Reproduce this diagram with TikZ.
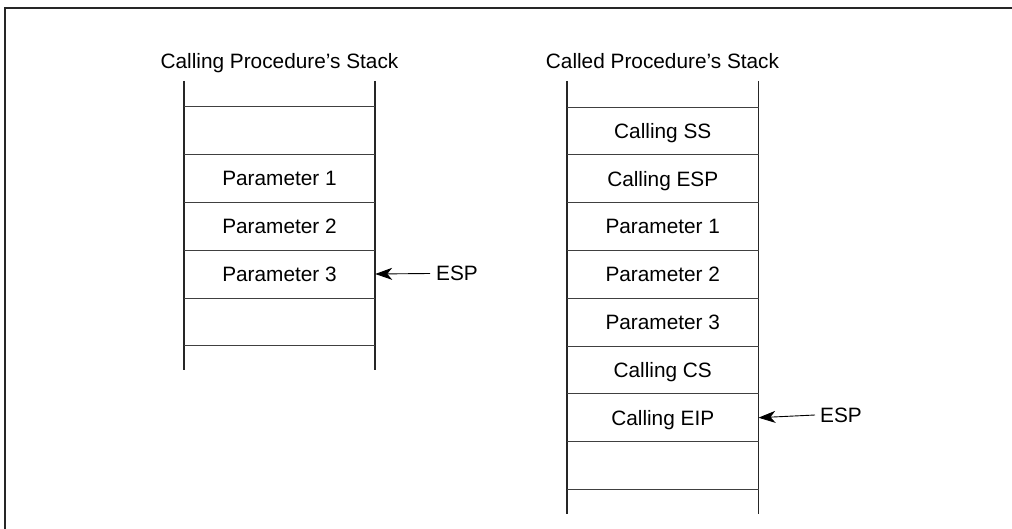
\documentclass[tikz,border=0pt]{standalone}
\usepackage{fontspec}
\setmainfont{Liberation Sans}
\usetikzlibrary{arrows.meta}
\begin{document}
\begin{tikzpicture}[x=1pt,y=-1pt,
  frame/.style={line width=1.6pt, black!85},
  rail/.style={line width=1.3pt, black!85},
  sep/.style={line width=0.9pt, black!75},
  lbl/.style={font=\fontsize{20.8}{24}\selectfont, inner sep=0pt, text height=14.9pt, text depth=0pt},
  cell/.style={lbl, minimum width=191pt},
  ptr/.style={line width=0.9pt, -{Stealth[length=17pt,width=12pt,inset=5pt]}}]
\useasboundingbox (0,0) rectangle (1012,529);
\draw[frame] (5,529) -- (5,8) -- (1012,8);

% ---- Calling procedure's stack ----
\node[lbl] (titleL) at (279.5,61) {Calling Procedure’s Stack};
\draw[rail] (184,81) -- (184,370);
\draw[rail] (375,81) -- (375,370);
\foreach \y in {106,154,202,250,298,345}
  \draw[sep] (184,\y) -- (375,\y);
\node[cell] (p1L) at (279.5,178) {Parameter 1};
\node[cell] (p2L) at (279.5,226) {Parameter 2};
\node[cell] (p3L) at (279.5,274) {Parameter 3};
\node[lbl, inner xsep=6pt, anchor=west] (espL) at (430,273.5) {ESP};
\draw[ptr] (espL.west) -- (p3L.east);

% ---- Called procedure's stack ----
\node[lbl] (titleR) at (662.5,61) {Called Procedure’s Stack};
\draw[rail] (567,81) -- (567,514);
\draw[rail] (758.5,81) -- (758.5,514);
\foreach \y in {107,154.8,202.6,250.4,298.2,346,393.8,441.6,489.4}
  \draw[sep] (567,\y) -- (758.5,\y);
\node[cell] (ssR)  at (662.75,130.9) {Calling SS};
\node[cell] (espRc) at (662.75,178.7) {Calling ESP};
\node[cell] (p1R)  at (662.75,226.5) {Parameter 1};
\node[cell] (p2R)  at (662.75,274.3) {Parameter 2};
\node[cell] (p3R)  at (662.75,322.1) {Parameter 3};
\node[cell] (csR)  at (662.75,369.9) {Calling CS};
\node[cell] (eipR) at (662.75,417.7) {Calling EIP};
\node[lbl, inner xsep=5pt, anchor=west] (espR) at (815,415) {ESP};
\draw[ptr] (espR.west) -- (eipR.east);
\end{tikzpicture}
\end{document}
